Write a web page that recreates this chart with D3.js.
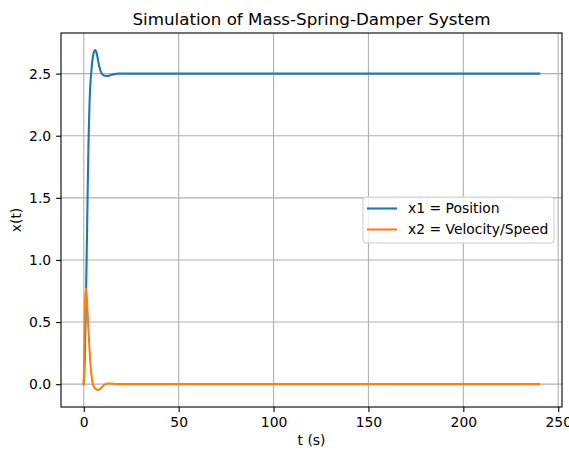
<!DOCTYPE html>
<html>
<head>
<meta charset="utf-8">
<script src="https://cdn.jsdelivr.net/npm/d3@7"></script>
<style>
  body { margin: 0; background: #fff; }
  svg text { font-family: "DejaVu Sans", sans-serif; fill: #000; }
  .tick text { font-size: 13.9px; }
  .grid line { stroke: #b0b0b0; stroke-width: 1.1; }
</style>
</head>
<body>
<div id="vis"></div>
<script>
// time samples (s) and the two state variables
var t  = [0, 0.5, 1, 1.5, 2, 2.5, 3, 3.5, 4, 4.5, 5, 5.5, 5.9, 6.5, 7, 7.5, 8, 8.5, 9, 9.5, 10, 11, 12.5, 14, 16, 18, 20, 60, 120, 180, 240];
var x1 = [0, 0.2, 0.55, 1.0, 1.5, 1.95, 2.25, 2.42, 2.52, 2.6, 2.65, 2.68, 2.69, 2.68, 2.65, 2.61, 2.57, 2.54, 2.515, 2.5, 2.49, 2.483, 2.481, 2.487, 2.496, 2.5, 2.5, 2.5, 2.5, 2.5, 2.5];
var tv = [0, 0.25, 0.5, 0.8, 1.15, 1.5, 2, 2.5, 3, 3.5, 4, 4.5, 5, 6, 7, 7.6, 8.5, 9.5, 10.5, 11.5, 12.5, 14, 16, 18, 20, 60, 120, 180, 240];
var x2 = [0, 0.25, 0.5, 0.7, 0.77, 0.72, 0.58, 0.43, 0.29, 0.17, 0.08, 0.02, -0.01, -0.035, -0.045, -0.047, -0.04, -0.025, -0.01, 0, 0.004, 0.005, 0.002, 0, 0, 0, 0, 0, 0];
var xTicks = [0, 50, 100, 150, 200, 250];
var yTicks = [0, 0.5, 1, 1.5, 2, 2.5];
var seriesNames = ['x1 = Position', 'x2 = Velocity/Speed'];
var colors = ['#1f77b4', '#ff7f0e'];

var width = 569, height = 450;
var margin = {left: 61, right: 7, top: 33, bottom: 43};
var drawWidth = width - margin.left - margin.right,
    drawHeight = height - margin.top - margin.bottom;

var svg = d3.select('#vis').append('svg')
            .attr('width', width)
            .attr('height', height);

var g = svg.append('g')
           .attr('transform', `translate(${margin.left},${margin.top})`);

// matplotlib-style 5% padding on the data range
var xScale = d3.scaleLinear().domain([-12, 252]).range([0, drawWidth]);
var yMin = d3.min(x2), yMax = d3.max(x1), pad = (yMax - yMin) * 0.05;
var yScale = d3.scaleLinear().domain([yMin - pad, yMax + pad]).range([drawHeight, 0]);

// grid
g.append('g').attr('class', 'grid')
 .selectAll('line').data(xTicks).enter().append('line')
 .attr('x1', d => xScale(d)).attr('x2', d => xScale(d))
 .attr('y1', 0).attr('y2', drawHeight);
g.append('g').attr('class', 'grid')
 .selectAll('line').data(yTicks).enter().append('line')
 .attr('y1', d => yScale(d)).attr('y2', d => yScale(d))
 .attr('x1', 0).attr('x2', drawWidth);

// lines
var line = d3.line().x(d => xScale(d[0])).y(d => yScale(d[1]));
var data1 = t.map((d, i) => [d, x1[i]]);
var data2 = tv.map((d, i) => [d, x2[i]]);
[data1, data2].forEach(function(data, i) {
    g.append('path')
     .datum(data)
     .attr('d', line.curve(d3.curveMonotoneX))
     .attr('fill', 'none')
     .attr('stroke', colors[i])
     .attr('stroke-width', 2.1)
     .attr('stroke-linejoin', 'round')
     .attr('stroke-linecap', 'square');
});

// axes
var xAxis = d3.axisBottom(xScale).tickValues(xTicks).tickFormat(d3.format('d')).tickSize(4.9).tickPadding(4.9);
var yAxis = d3.axisLeft(yScale).tickValues(yTicks).tickFormat(d3.format('.1f')).tickSize(4.9).tickPadding(4.9);
g.append('g').attr('transform', `translate(0,${drawHeight})`).call(xAxis);
g.append('g').call(yAxis);
g.selectAll('.domain').remove();
g.selectAll('.tick line').attr('stroke', '#000').attr('stroke-width', 1.1);

// spines
g.append('rect')
 .attr('x', 0).attr('y', 0)
 .attr('width', drawWidth).attr('height', drawHeight)
 .attr('fill', 'none').attr('stroke', '#000').attr('stroke-width', 1.1);

// title and labels
svg.append('text')
   .attr('x', margin.left + drawWidth / 2).attr('y', 25)
   .attr('text-anchor', 'middle').style('font-size', '16.7px')
   .text('Simulation of Mass-Spring-Damper System');
svg.append('text')
   .attr('x', margin.left + drawWidth / 2).attr('y', 445)
   .attr('text-anchor', 'middle').style('font-size', '13.9px')
   .text('t (s)');
svg.append('text')
   .attr('transform', `translate(21,${margin.top + drawHeight / 2}) rotate(-90)`)
   .attr('text-anchor', 'middle').style('font-size', '13.9px')
   .text('x(t)');

// legend
var legend = svg.append('g').attr('transform', 'translate(363,197)');
legend.append('rect')
      .attr('width', 191).attr('height', 46)
      .attr('rx', 3).attr('ry', 3)
      .attr('fill', 'rgba(255,255,255,0.8)')
      .attr('stroke', '#cccccc').attr('stroke-width', 1);
seriesNames.forEach(function(name, i) {
    var y = 11.5 + i * 21;
    legend.append('line')
          .attr('x1', 4).attr('x2', 34).attr('y1', y).attr('y2', y)
          .attr('stroke', colors[i]).attr('stroke-width', 2.1);
    legend.append('text')
          .attr('x', 45).attr('y', y).attr('dy', '0.35em')
          .style('font-size', '13.9px')
          .text(name);
});
</script>
</body>
</html>
